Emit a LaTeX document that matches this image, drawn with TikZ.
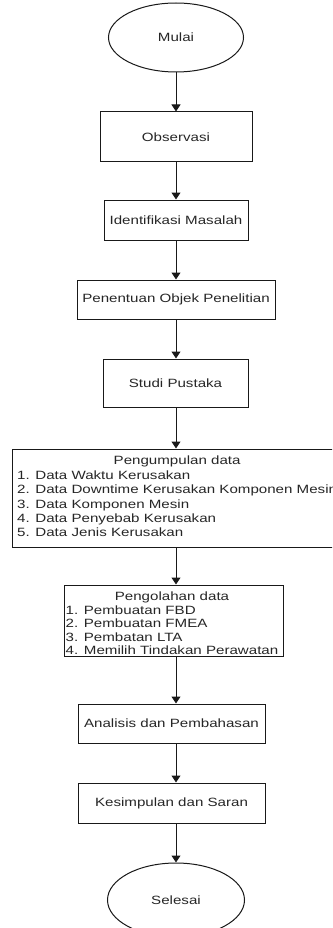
\documentclass[tikz,border=0pt]{standalone}
\usepackage{fontspec}
\setmainfont[FakeStretch=1.26]{Liberation Sans}
\usetikzlibrary{shapes.geometric,arrows.meta}
\begin{document}
\begin{tikzpicture}[x=1pt,y=-1pt,
  every node/.style={font=\fontsize{12}{14.4}\selectfont, text=black!85},
  procbox/.style={draw=black!90, line width=1pt, rectangle, inner sep=0pt},
  termin/.style={draw=black!90, line width=1pt, ellipse, inner sep=0pt},
  listtext/.style={inner sep=0pt, anchor=west, align=left},
  arr/.style={draw=black!90, line width=1pt, -{Triangle[length=7pt,width=9pt]}}]
\useasboundingbox (0,0) rectangle (332,928);
\clip (0,0) rectangle (332,928);
\coordinate (axis) at (176,0);
\node[termin, minimum width=135, minimum height=69] (mulai) at (176,37.5) {Mulai};
\node[procbox, minimum width=152, minimum height=50] (obs) at (176,137) {Observasi};
\node[procbox, minimum width=144, minimum height=40] (idn) at (176,220) {Identifikasi Masalah};
\node[procbox, minimum width=198, minimum height=39] (pen) at (176,299.5) {Penentuan Objek Penelitian};
\node[procbox, minimum width=145, minimum height=48] (stu) at (175.5,383) {Studi Pustaka};
\node[procbox, minimum width=328, minimum height=98] (pgm) at (176,498) {};
\node[listtext] (pgmt) at (17,498) {\begin{tabular}{@{}l@{}}\multicolumn{1}{@{}c@{}}{Pengumpulan data}\\
1. Data Waktu Kerusakan\\
2. Data Downtime Kerusakan Komponen Mesin\\
3. Data Komponen Mesin\\
4. Data Penyebab Kerusakan\\
5. Data Jenis Kerusakan\end{tabular}};
\node[procbox, minimum width=219, minimum height=71] (pgo) at (173.5,620.5) {};
\node[listtext, font=\fontsize{12}{13.5}\selectfont] (pgot) at (65.5,625) {\begin{tabular}{@{}l@{}}\multicolumn{1}{@{}c@{}}{Pengolahan data}\\
1. Pembuatan FBD\\
2. Pembuatan FMEA\\
3. Pembatan LTA\\
4. Memilih Tindakan Perawatan\end{tabular}};
\node[procbox, minimum width=187, minimum height=39] (ana) at (171.5,723.5) {Analisis dan Pembahasan};
\node[procbox, minimum width=187, minimum height=40] (kes) at (171.5,803) {Kesimpulan dan Saran};
\node[termin, minimum width=137, minimum height=74] (sel) at (176,900) {Selesai};
\draw[arr] (mulai.south -| axis) -- (obs.north -| axis);
\draw[arr] (obs.south -| axis) -- (idn.north -| axis);
\draw[arr] (idn.south -| axis) -- (pen.north -| axis);
\draw[arr] (pen.south -| axis) -- (stu.north -| axis);
\draw[arr] (stu.south -| axis) -- (pgm.north -| axis);
\draw[arr] (pgm.south -| axis) -- (pgo.north -| axis);
\draw[arr] (pgo.south -| axis) -- (ana.north -| axis);
\draw[arr] (ana.south -| axis) -- (kes.north -| axis);
\draw[arr] (kes.south -| axis) -- (sel.north -| axis);
\end{tikzpicture}
\end{document}
